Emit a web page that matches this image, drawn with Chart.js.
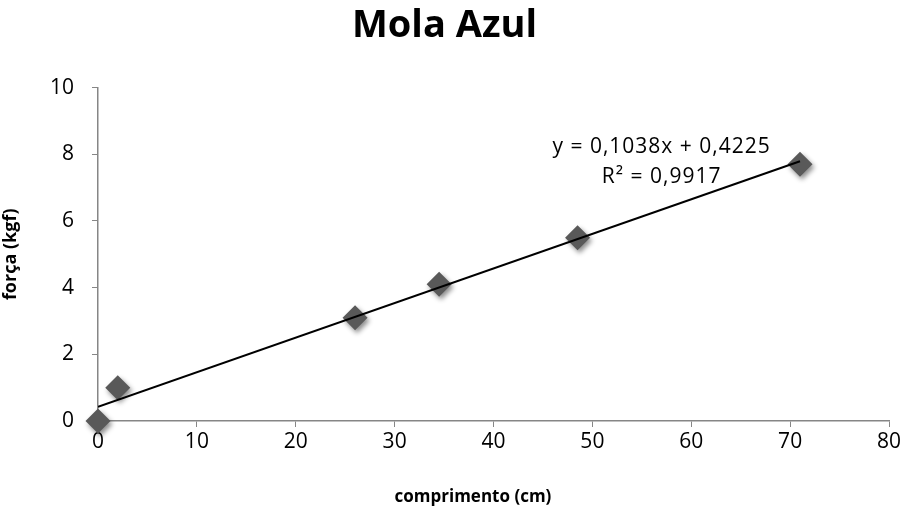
<!DOCTYPE html>
<html>
<head>
<meta charset="utf-8">
<script src="https://cdn.jsdelivr.net/npm/chart.js@4"></script>
<style>
  html, body { margin: 0; padding: 0; background: #fff; }
  #wrap { width: 907px; height: 512px; }
</style>
</head>
<body>
<div id="wrap"><canvas id="chart"></canvas></div>
<script>
// measured spring: length (cm) vs force (kgf)
const comprimento = [0, 2, 26, 34.5, 48.5, 71];
const forca = [0, 1, 3.1, 4.1, 5.5, 7.7];

// linear fit reported by the spreadsheet
const slope = 0.1038;
const intercept = 0.4225;
const r2 = 0.9917;
const fitLabel = ['y = 0,1038x + 0,4225', 'R² = 0,9917'];

const xTicks = [0, 10, 20, 30, 40, 50, 60, 70, 80];
const yTicks = [0, 2, 4, 6, 8, 10];
const xTitle = 'comprimento (cm)';

const FONT = "'Open Sans', 'Liberation Sans', sans-serif";
const AXIS = '#868686';
const MARK = '#595959';

const points = comprimento.map((x, i) => ({ x, y: forca[i] }));
const xMaxData = Math.max(...comprimento);
const trend = [0, xMaxData].map((x) => ({ x, y: slope * x + intercept }));

// soft drop shadow under the diamonds only
const markShadow = {
  id: 'markShadow',
  beforeDatasetDraw(chart, args) {
    if (args.index !== 0) return;
    const ctx = chart.ctx;
    ctx.save();
    ctx.shadowColor = 'rgba(0,0,0,0.45)';
    ctx.shadowBlur = 5;
    ctx.shadowOffsetX = 2;
    ctx.shadowOffsetY = 3;
  },
  afterDatasetDraw(chart, args) {
    if (args.index !== 0) return;
    chart.ctx.restore();
  },
};

// regression equation text + x axis title (sits a bit left of the plot centre)
const fitText = {
  id: 'fitText',
  afterDatasetsDraw(chart) {
    const { ctx, scales, chartArea } = chart;
    ctx.save();
    ctx.fillStyle = '#000';
    ctx.font = `21px ${FONT}`;
    ctx.letterSpacing = '1px';
    ctx.textAlign = 'center';
    ctx.textBaseline = 'middle';
    const cx = scales.x.getPixelForValue(57);
    ctx.fillText(fitLabel[0], cx, scales.y.getPixelForValue(8.23));
    ctx.fillText(fitLabel[1], cx, scales.y.getPixelForValue(7.33));
    ctx.letterSpacing = '0px';
    ctx.font = `bold 17px ${FONT}`;
    ctx.fillText(xTitle, chartArea.left + chartArea.width * 0.474, chartArea.bottom + 76);
    ctx.restore();
  },
};

new Chart(document.getElementById('chart'), {
  type: 'scatter',
  data: {
    datasets: [
      {
        label: 'força',
        data: points,
        pointStyle: 'rectRot',
        pointRadius: 12.5,
        pointHoverRadius: 12.5,
        backgroundColor: MARK,
        borderColor: MARK,
        borderWidth: 0,
        clip: false,
        order: 1,
      },
      {
        type: 'line',
        label: 'Linear',
        data: trend,
        borderColor: '#000',
        borderWidth: 2,
        pointRadius: 0,
        fill: false,
        order: 0,
      },
    ],
  },
  options: {
    responsive: true,
    maintainAspectRatio: false,
    animation: false,
    layout: { padding: { left: 0, right: 18, top: 0, bottom: 0 } },
    plugins: {
      legend: { display: false },
      tooltip: { enabled: false },
      title: {
        display: true,
        text: 'Mola Azul',
        color: '#000',
        font: { family: FONT, size: 38, weight: 'bold' },
        padding: { top: 3, bottom: 39 },
      },
    },
    scales: {
      x: {
        type: 'linear',
        min: 0, max: 80,
        afterBuildTicks: (s) => { s.ticks = xTicks.map((v) => ({ value: v })); },
        afterFit: (s) => { s.height = 91; },
        ticks: { color: '#000', font: { family: FONT, size: 21 }, padding: 2 },
        grid: { display: true, drawOnChartArea: false, drawTicks: true, tickLength: 6, color: AXIS },
        border: { color: AXIS, width: 1.5 },
      },
      y: {
        type: 'linear',
        min: 0, max: 10,
        afterBuildTicks: (s) => { s.ticks = yTicks.map((v) => ({ value: v })); },
        afterFit: (s) => { s.width = 98; },
        ticks: { color: '#000', font: { family: FONT, size: 21 }, padding: 18 },
        grid: { display: true, drawOnChartArea: false, drawTicks: true, tickLength: 6, color: AXIS },
        border: { color: AXIS, width: 1.5 },
        title: {
          display: true,
          text: 'força (kgf)',
          color: '#000',
          font: { family: FONT, size: 18, weight: 'bold' },
          padding: { top: 0, bottom: 0 },
        },
      },
    },
  },
  plugins: [markShadow, fitText],
});
</script>
</body>
</html>
